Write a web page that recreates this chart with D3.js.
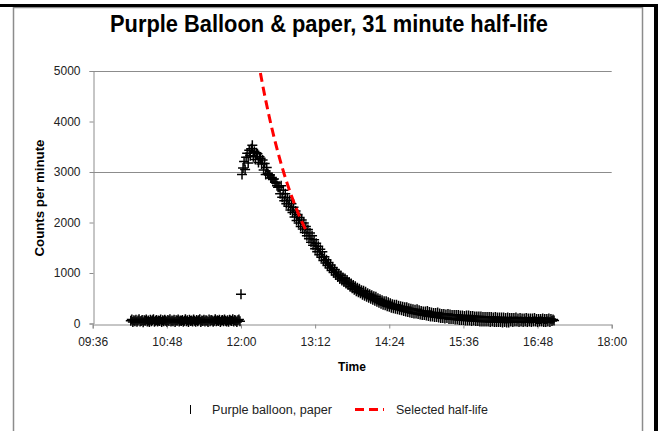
<!DOCTYPE html>
<html><head><meta charset="utf-8">
<script src="https://cdn.jsdelivr.net/npm/d3@7"></script>
<style>html,body{margin:0;padding:0;background:#fff;}svg{display:block;}</style>
</head><body>
<script>
// ---- data ----
const title = "Purple Balloon & paper, 31 minute half-life";
const xTickLabels = ["09:36","10:48","12:00","13:12","14:24","15:36","16:48","18:00"];
const yTickValues = [0,1000,2000,3000,4000,5000];
const yGridValues = [3000,5000];
// background readings, one per minute from 10:13
const backgroundStart = "10:13";
const backgroundStep = 1;
const backgroundCounts = [
 55,80,30,65,45,75,35,60,85,40,
 50,70,25,65,55,80,40,60,30,75,
 45,65,85,35,55,70,40,60,50,80,
 30,65,45,75,55,35,70,50,85,40,
 60,45,75,30,65,55,80,40,60,50,
 70,35,55,85,45,65,30,75,50,60,
 40,80,55,35,70,45,65,85,30,60,
 50,75,40,65,55,30,80,45,70,60,
 35,55,85,45,65,50,75,30,60,70,
 45,80,55,40,65,35,75,60,50,85,
 40,70,55,30,65,80,45,580];
// balloon readings, one per minute from 12:01
const balloonStart = "12:01";
const balloonStep = 1;
const balloonCounts = [
 2950,3080,3210,3050,3290,3370,3180,3430,3320,3460,
 3530,3300,3410,3250,3380,3360,3190,3300,3270,3160,
 3240,3040,3170,2950,3090,2970,2940,2940,2880,2890,
 2850,2860,2800,2780,2730,2700,2700,2570,2730,2500,
 2640,2430,2570,2370,2490,2320,2440,2250,2370,2200,
 2300,2110,2230,2040,2160,1990,2100,1920,2050,1870,
 1990,1800,1920,1740,1860,1680,1790,1610,1740,1550,
 1660,1480,1590,1420,1530,1360,1470,1310,1420,1250,
 1320,1200,1260,1150,1210,1100,1160,1050,1110,1010,
 1070,960,1020,920,980,880,950,850,910,820,
 890,790,860,760,820,730,790,700,760,670,
 740,640,710,620,690,600,660,570,650,550,
 630,530,600,510,580,490,560,470,540,450,
 530,430,500,410,480,390,460,370,440,360,
 440,340,420,330,400,310,380,300,370,290,
 370,280,350,270,340,260,330,250,320,240,
 320,230,300,220,290,210,280,200,270,200,
 280,190,260,180,250,170,240,170,240,160,
 250,150,230,140,220,140,210,130,210,130,
 220,120,200,110,190,110,190,100,180,110,
 190,90,180,90,170,90,170,80,170,80,
 170,70,160,70,160,70,150,60,160,60,
 160,60,150,50,150,60,140,50,140,50,
 140,40,140,40,130,40,130,40,130,40,
 130,30,130,40,120,30,130,30,120,30,
 120,30,120,20,120,30,110,20,120,20,
 110,40,110,30,110,40,120,40,100,30,
 110,40,100,30,100,40,110,30,100,40,
 100,30,100,40,110,40,90,30,90,40,
 90,40,100,30,90,30,90,40,100,30,
 90,50,80,60];
// selected half-life curve (31 min), every 3 minutes from 12:12
const halfLifeStart = "12:12";
const halfLifeStep = 3;
const halfLifeCounts = [
 5782,5407,5056,4728,4421,4134,3866,3615,3381,3162,
 2956,2765,2585,2418,2261,2114,1977,1849];
const legendLabels = ["Purple balloon, paper","Selected half-life"];

// ---- helpers ----
const toMin = s => { const [h,m] = s.split(":").map(Number); return h*60+m; };
const series = (start, step, vals) => vals.map((v,i)=>({t: toMin(start)+i*step, v}));
const points = series(backgroundStart, backgroundStep, backgroundCounts)
  .concat(series(balloonStart, balloonStep, balloonCounts));
const curve = series(halfLifeStart, halfLifeStep, halfLifeCounts);

const W = 658, H = 431;
const svg = d3.select("body").append("svg").attr("width", W).attr("height", H)
  .style("font-family", "'Liberation Sans', Arial, sans-serif");

// borders
svg.append("rect").attr("x",13.5).attr("y",7.5).attr("width",629).attr("height",440)
  .attr("fill","none").attr("stroke","#8c8c8c").attr("stroke-width",1.5);
svg.append("rect").attr("x",0).attr("y",4).attr("width",W).attr("height",3).attr("fill","#000");
svg.append("rect").attr("x",654).attr("y",4).attr("width",4).attr("height",H).attr("fill","#000");

const xTickMins = xTickLabels.map(toMin);
const x = d3.scaleLinear().domain([xTickMins[0], xTickMins[xTickMins.length-1]]).range([92.7, 611.7]);
const y = d3.scaleLinear().domain([0,5000]).range([323.5, 71]);

// title
svg.append("text").attr("x",329).attr("y",32).attr("text-anchor","middle")
  .attr("font-size",23).attr("font-weight","bold").attr("fill","#000")
  .attr("textLength",438).attr("lengthAdjust","spacingAndGlyphs").text(title);

// gridlines
svg.append("g").selectAll("line").data(yGridValues).join("line")
  .attr("x1",x.range()[0]).attr("x2",x.range()[1])
  .attr("y1",d=>Math.round(y(d))+0.5).attr("y2",d=>Math.round(y(d))+0.5)
  .attr("stroke","#8c8c8c").attr("stroke-width",1);

// axes
const xAxis = d3.axisBottom(x).tickValues(xTickMins).tickSize(4).tickPadding(9)
  .tickFormat((d,i)=>xTickLabels[i]);
const gx = svg.append("g").attr("transform",`translate(0,${Math.round(y(0))+0.5})`).call(xAxis);
gx.select(".domain").attr("stroke","#8c8c8c");
gx.selectAll(".tick line").attr("stroke","#8c8c8c");
gx.selectAll("text").attr("font-size",12).attr("fill","#222")
  .attr("font-family","'Liberation Sans', Arial, sans-serif");

const yAxis = d3.axisLeft(y).tickValues(yTickValues).tickSize(4).tickPadding(9).tickFormat(d3.format("d"));
const gy = svg.append("g").attr("transform",`translate(${Math.round(x.range()[0])+0.5},0)`).call(yAxis);
gy.select(".domain").attr("stroke","#8c8c8c");
gy.selectAll(".tick line").attr("stroke","#8c8c8c");
gy.selectAll("text").attr("font-size",12).attr("fill","#222")
  .attr("font-family","'Liberation Sans', Arial, sans-serif");

// axis titles
svg.append("text").attr("transform","translate(44,198) rotate(-90)").attr("text-anchor","middle")
  .attr("font-size",12).attr("font-weight","bold").attr("fill","#000")
  .attr("textLength",117).attr("lengthAdjust","spacingAndGlyphs").text("Counts per minute");
svg.append("text").attr("x",352).attr("y",371).attr("text-anchor","middle")
  .attr("font-size",12).attr("font-weight","bold").attr("fill","#000").text("Time");

// clip
svg.append("clipPath").attr("id","plotclip").append("rect")
  .attr("x",x.range()[0]).attr("y",y(5000)).attr("width",x.range()[1]-x.range()[0]).attr("height",y(0)-y(5000)+2);

// data points (+ markers)
svg.append("g").selectAll("path").data(points).join("path")
  .attr("transform",d=>`translate(${x(d.t)},${y(d.v)})`)
  .attr("d","M-5,0H5M0,-5V5").attr("stroke","#000").attr("stroke-width",1.5).attr("fill","none");

// half-life curve (drawn on top)
svg.append("path").datum(curve).attr("clip-path","url(#plotclip)")
  .attr("d", d3.line().x(d=>x(d.t)).y(d=>y(d.v)).curve(d3.curveMonotoneX))
  .attr("fill","none").attr("stroke","#ff0000").attr("stroke-width",3).attr("stroke-dasharray","9,5");

// legend
const lg = svg.append("g");
lg.append("line").attr("x1",190.5).attr("x2",190.5).attr("y1",405).attr("y2",414).attr("stroke","#000").attr("stroke-width",1);
lg.append("text").attr("x",212).attr("y",414).attr("font-size",12).attr("fill","#222")
  .attr("textLength",120).attr("lengthAdjust","spacingAndGlyphs").text(legendLabels[0]);
lg.append("line").attr("x1",355).attr("x2",384).attr("y1",409.5).attr("y2",409.5)
  .attr("stroke","#ff0000").attr("stroke-width",3).attr("stroke-dasharray","9,5");
lg.append("text").attr("x",396).attr("y",414).attr("font-size",12).attr("fill","#222")
  .attr("textLength",92).attr("lengthAdjust","spacingAndGlyphs").text(legendLabels[1]);
</script>
</body></html>
